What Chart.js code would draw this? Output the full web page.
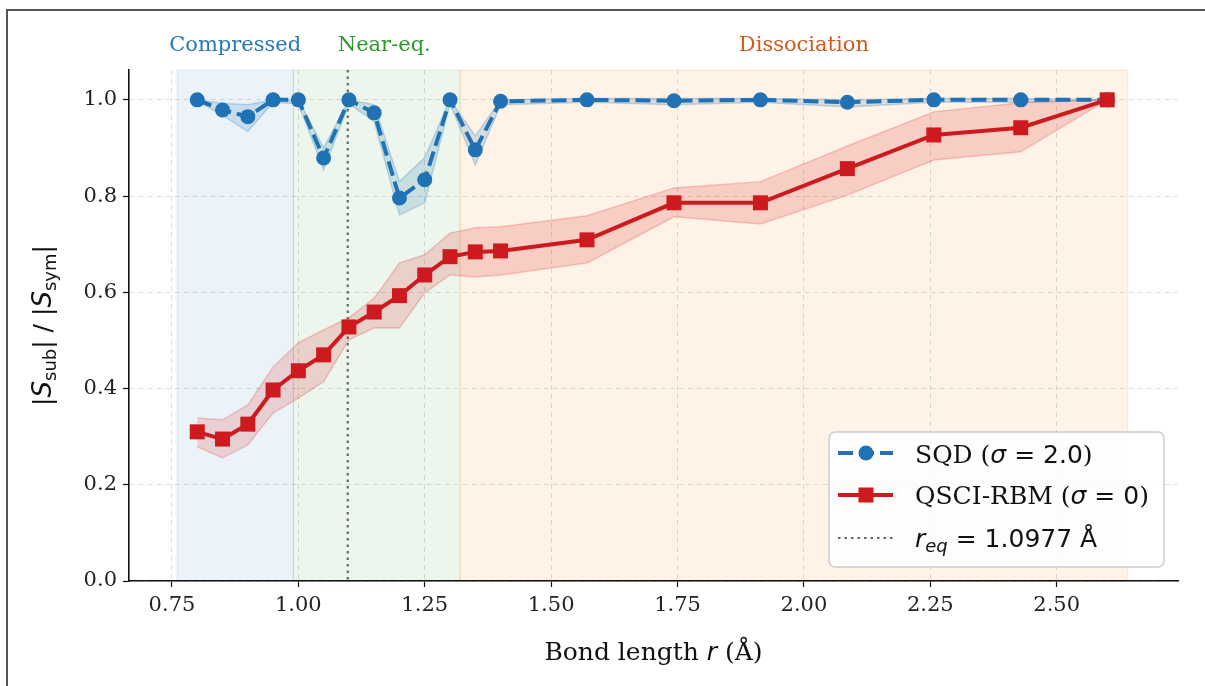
<!DOCTYPE html>
<html>
<head>
<meta charset="utf-8">
<script src="https://cdn.jsdelivr.net/npm/chart.js@4.4.1/dist/chart.umd.min.js"></script>
<style>
  html, body { margin: 0; padding: 0; background: #fff; }
  #wrap { width: 1205px; height: 686px; position: relative; }
</style>
</head>
<body>
<div id="wrap"><canvas id="canvas" width="1205" height="686"></canvas></div>
<script>
"use strict";

// bond lengths (Angstrom)
var bondLengths = [0.80, 0.85, 0.90, 0.95, 1.00, 1.05, 1.10, 1.15, 1.20, 1.25, 1.30, 1.35, 1.40,
                   1.571, 1.743, 1.914, 2.086, 2.257, 2.429, 2.60];

// SQD (sigma = 2.0): mean and band
var sqdRatio = [1.000, 0.979, 0.965, 1.000, 1.000, 0.879, 1.000, 0.973, 0.796, 0.834, 1.000, 0.896, 0.997,
                1.000, 0.998, 1.000, 0.995, 1.000, 1.000, 1.000];
var sqdLow   = [0.998, 0.968, 0.934, 0.995, 0.992, 0.855, 0.992, 0.955, 0.761, 0.786, 0.992, 0.865, 0.990,
                0.995, 0.990, 0.995, 0.985, 0.995, 0.995, 1.000];
var sqdHigh  = [1.000, 0.993, 0.990, 1.000, 1.000, 0.900, 1.000, 0.990, 0.830, 0.880, 1.000, 0.925, 1.000,
                1.003, 1.003, 1.003, 1.000, 1.003, 1.003, 1.000];

// QSCI-RBM (sigma = 0): mean and band
var rbmRatio = [0.310, 0.295, 0.326, 0.397, 0.437, 0.470, 0.528, 0.559, 0.593, 0.636, 0.674, 0.684, 0.686,
                0.709, 0.786, 0.786, 0.857, 0.927, 0.942, 1.000];
var rbmLow   = [0.279, 0.256, 0.283, 0.349, 0.380, 0.414, 0.501, 0.526, 0.526, 0.599, 0.636, 0.632, 0.636,
                0.661, 0.757, 0.742, 0.802, 0.875, 0.892, 1.000];
var rbmHigh  = [0.339, 0.335, 0.366, 0.445, 0.495, 0.522, 0.547, 0.588, 0.661, 0.678, 0.723, 0.734, 0.736,
                0.759, 0.817, 0.830, 0.904, 0.975, 0.994, 1.000];

var rEq = 1.0977;

var regionNames = ['Compressed', 'Near-eq.', 'Dissociation'];
var regionStart = [0.76, 0.99, 1.32];
var regionEnd   = [0.99, 1.32, 2.64];
var regionLabelAt = [0.875, 1.17, 2.0];

var xTicks = [0.75, 1.00, 1.25, 1.50, 1.75, 2.00, 2.25, 2.50];
var yTicks = [0.0, 0.2, 0.4, 0.6, 0.8, 1.0];

var BLUE = '#2171b5';
var RED = '#cc1a1f';
var regionFill = ['rgba(31,119,180,0.09)', 'rgba(44,160,44,0.09)', 'rgba(255,127,14,0.10)'];
var regionEdge = ['rgba(31,119,180,0.12)', 'rgba(44,160,44,0.14)', 'rgba(255,127,14,0.15)'];
var regionText = ['#2a78b4', '#2e9a2e', '#cf5a1c'];

var SERIF = '"DejaVu Serif", serif';
var SANS = '"DejaVu Sans", sans-serif';

function pts(ys) {
  return bondLengths.map(function(x, i) { return { x: x, y: ys[i] }; });
}

// draw text made of several runs (font / offset) one after another
function drawRuns(ctx, runs, x, y, align) {
  var total = 0;
  runs.forEach(function(r) {
    ctx.font = r.font;
    r.w = ctx.measureText(r.t).width;
    total += r.w;
  });
  var cx = align === 'center' ? x - total / 2 : x;
  runs.forEach(function(r) {
    ctx.font = r.font;
    ctx.fillText(r.t, cx, y + (r.dy || 0));
    cx += r.w;
  });
}

var decorPlugin = {
  id: 'decor',
  beforeDraw: function(chart) {
    var ctx = chart.ctx, a = chart.chartArea, xs = chart.scales.x;
    ctx.save();
    for (var i = 0; i < regionNames.length; i++) {
      var x1 = xs.getPixelForValue(regionStart[i]);
      var x2 = xs.getPixelForValue(regionEnd[i]);
      ctx.fillStyle = regionFill[i];
      ctx.fillRect(x1, a.top, x2 - x1, a.bottom - a.top);
      ctx.strokeStyle = regionEdge[i];
      ctx.lineWidth = 1;
      ctx.strokeRect(x1, a.top, x2 - x1, a.bottom - a.top);
    }
    ctx.restore();
  },
  beforeDatasetsDraw: function(chart) {
    var ctx = chart.ctx, a = chart.chartArea;
    var x = chart.scales.x.getPixelForValue(rEq);
    ctx.save();
    ctx.strokeStyle = '#666';
    ctx.lineWidth = 2.2;
    ctx.setLineDash([2.5, 4]);
    ctx.beginPath();
    ctx.moveTo(x, a.top);
    ctx.lineTo(x, a.bottom);
    ctx.stroke();
    ctx.restore();
  },
  afterDraw: function(chart) {
    var ctx = chart.ctx, a = chart.chartArea, xs = chart.scales.x;
    ctx.save();
    ctx.textBaseline = 'alphabetic';

    // region labels above the axes
    ctx.textAlign = 'left';
    for (var i = 0; i < regionNames.length; i++) {
      var cx = xs.getPixelForValue(regionLabelAt[i]);
      ctx.fillStyle = regionText[i];
      drawRuns(ctx, [{ t: regionNames[i], font: '21px ' + SERIF }], cx, 51, 'center');
    }

    // x axis title
    ctx.fillStyle = '#111';
    drawRuns(ctx, [
      { t: 'Bond length ', font: '25px ' + SERIF },
      { t: 'r', font: 'italic 25px ' + SANS },
      { t: ' (Å)', font: '25px ' + SERIF }
    ], (a.left + a.right) / 2, 660, 'center');

    // y axis title
    ctx.save();
    ctx.translate(51, (a.top + a.bottom) / 2);
    ctx.rotate(-Math.PI / 2);
    var big = '25px ' + SANS, it = 'italic 26px ' + SANS, sm = '18px ' + SANS;
    drawRuns(ctx, [
      { t: '|', font: big },
      { t: 'S', font: it },
      { t: 'sub', font: sm, dy: 5 },
      { t: '|', font: big },
      { t: ' / ', font: big },
      { t: '|', font: big },
      { t: 'S', font: it },
      { t: 'sym', font: sm, dy: 5 },
      { t: '|', font: big }
    ], 0, 0, 'center');
    ctx.restore();

    // legend
    var bx = 829, by = 432, bw = 335, bh = 135;
    ctx.fillStyle = 'rgba(255,255,255,0.85)';
    ctx.strokeStyle = '#cccccc';
    ctx.lineWidth = 1.5;
    ctx.beginPath();
    ctx.roundRect(bx, by, bw, bh, 6);
    ctx.fill();
    ctx.stroke();

    var lx1 = 838, lx2 = 893, mx = 866;
    // SQD sample
    ctx.strokeStyle = BLUE;
    ctx.lineWidth = 4;
    ctx.setLineDash([15, 6]);
    ctx.beginPath(); ctx.moveTo(lx1, 453); ctx.lineTo(lx2, 453); ctx.stroke();
    ctx.setLineDash([]);
    ctx.fillStyle = BLUE;
    ctx.beginPath(); ctx.arc(mx, 453, 7.5, 0, Math.PI * 2); ctx.fill();
    // RBM sample
    ctx.strokeStyle = RED;
    ctx.beginPath(); ctx.moveTo(lx1, 495); ctx.lineTo(lx2, 495); ctx.stroke();
    ctx.fillStyle = RED;
    ctx.fillRect(mx - 7.5, 495 - 7.5, 15, 15);
    // r_eq sample
    ctx.strokeStyle = '#666';
    ctx.lineWidth = 2.2;
    ctx.setLineDash([2.5, 4]);
    ctx.beginPath(); ctx.moveTo(lx1, 538); ctx.lineTo(lx2, 538); ctx.stroke();
    ctx.setLineDash([]);

    var tf = '25px ' + SERIF, mf = '25px ' + SANS, mi = 'italic 25px ' + SANS;
    ctx.fillStyle = '#111';
    drawRuns(ctx, [
      { t: 'SQD (', font: tf }, { t: 'σ', font: mi }, { t: ' = 2.0', font: mf }, { t: ')', font: tf }
    ], 915, 463, 'left');
    drawRuns(ctx, [
      { t: 'QSCI-RBM (', font: tf }, { t: 'σ', font: mi }, { t: ' = 0', font: mf }, { t: ')', font: tf }
    ], 915, 504, 'left');
    drawRuns(ctx, [
      { t: 'r', font: mi }, { t: 'eq', font: 'italic 18px ' + SANS, dy: 5 }, { t: ' = 1.0977 Å', font: mf }
    ], 915, 547, 'left');

    // figure frame (top and left edges)
    ctx.strokeStyle = '#555';
    ctx.lineWidth = 2;
    ctx.beginPath();
    ctx.moveTo(7, 686); ctx.lineTo(7, 10); ctx.lineTo(1205, 10);
    ctx.stroke();
    ctx.restore();
  }
};

var ctx = document.getElementById('canvas').getContext('2d');
window.myChart = new Chart(ctx, {
  type: 'line',
  data: {
    datasets: [{
      label: 'QSCI-RBM (σ = 0)',
      data: pts(rbmRatio),
      order: 0,
      borderColor: RED,
      backgroundColor: RED,
      borderWidth: 4,
      pointStyle: 'rect',
      pointRadius: 10.6,
      pointBorderWidth: 0,
      pointBackgroundColor: RED,
      fill: false
    }, {
      label: 'SQD (σ = 2.0)',
      data: pts(sqdRatio),
      order: 1,
      borderColor: BLUE,
      backgroundColor: BLUE,
      borderWidth: 4,
      borderDash: [15, 6],
      pointStyle: 'circle',
      pointRadius: 7.5,
      pointBorderWidth: 0,
      pointBackgroundColor: BLUE,
      fill: false
    }, {
      label: 'rbm high',
      data: pts(rbmHigh),
      order: 2,
      borderColor: 'rgba(214,39,40,0.22)',
      backgroundColor: 'rgba(214,39,40,0.18)',
      borderWidth: 1.5,
      pointRadius: 0,
      fill: '+1'
    }, {
      label: 'rbm low',
      data: pts(rbmLow),
      order: 3,
      borderColor: 'rgba(214,39,40,0.22)',
      borderWidth: 1.5,
      pointRadius: 0,
      fill: false
    }, {
      label: 'sqd high',
      data: pts(sqdHigh),
      order: 4,
      borderColor: 'rgba(31,119,180,0.25)',
      backgroundColor: 'rgba(31,119,180,0.18)',
      borderWidth: 1.5,
      pointRadius: 0,
      fill: '+1'
    }, {
      label: 'sqd low',
      data: pts(sqdLow),
      order: 5,
      borderColor: 'rgba(31,119,180,0.25)',
      borderWidth: 1.5,
      pointRadius: 0,
      fill: false
    }]
  },
  options: {
    responsive: false,
    animation: false,
    events: [],
    layout: { padding: { left: 0, right: 27, top: 70, bottom: 0 } },
    elements: { line: { tension: 0 } },
    plugins: {
      legend: { display: false },
      tooltip: { enabled: false },
      title: { display: false }
    },
    scales: {
      x: {
        type: 'linear',
        min: 0.665,
        max: 2.74,
        afterBuildTicks: function(scale) {
          scale.ticks = xTicks.map(function(v) { return { value: v }; });
        },
        afterFit: function(scale) { scale.height = 105; },
        ticks: {
          font: { family: SERIF, size: 21 },
          color: '#222',
          padding: 6,
          maxRotation: 0,
          callback: function(v) { return Number(v).toFixed(2); }
        },
        grid: {
          color: 'rgba(0,0,0,0.13)',
          lineWidth: 1,
          tickColor: '#111',
          tickLength: 6,
          tickWidth: 1.2
        },
        border: { display: true, color: '#111', width: 1.6, dash: [5, 4] }
      },
      y: {
        type: 'linear',
        min: 0,
        max: 1.062,
        afterBuildTicks: function(scale) {
          scale.ticks = yTicks.map(function(v) { return { value: v }; });
        },
        afterFit: function(scale) { scale.width = 129; },
        ticks: {
          font: { family: SERIF, size: 21 },
          color: '#222',
          padding: 6,
          callback: function(v) { return Number(v).toFixed(1); }
        },
        grid: {
          color: 'rgba(0,0,0,0.13)',
          lineWidth: 1,
          tickColor: '#111',
          tickLength: 6,
          tickWidth: 1.2
        },
        border: { display: true, color: '#111', width: 1.6, dash: [5, 4] }
      }
    }
  },
  plugins: [decorPlugin]
});
</script>
</body>
</html>
